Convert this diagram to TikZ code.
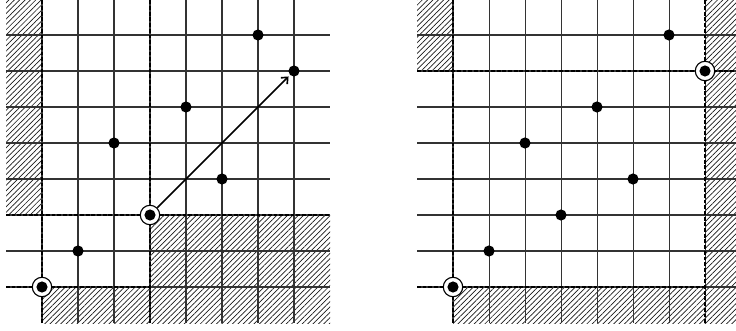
\documentclass[tikz,border=0pt]{standalone}
\usetikzlibrary{patterns.meta,arrows.meta}
\begin{document}
\begin{tikzpicture}[x=1cm,y=1cm,
  gridline/.style={black!80, line width=0.8pt},
  bound/.style={black, line width=1.4pt, dash pattern=on 3pt off 1.5pt},
  hatch/.style={pattern={Lines[angle=45,distance=3pt,line width=0.55pt]}, pattern color=black!90},
  dot/.style={circle, fill=black, inner sep=0pt, minimum size=0.31cm},
  ring/.style={circle, draw=black, line width=0.9pt, fill=white, inner sep=0pt, minimum size=0.54cm},
  arr/.style={line width=1.3pt, -{Straight Barb[length=4pt,width=7pt]}, shorten >=1.5pt}
]
\useasboundingbox (-1.1667,-1.2222) rectangle (19.2778,7.9722);
% ---------- left panel ----------
\begin{scope}
  \fill[hatch] (-1,2) rectangle (0,8);
  \fill[hatch] (0,-1) rectangle (8,0);
  \fill[hatch] (3,0) rectangle (8,2);
  \foreach \i in {0,...,7} {
    \draw[gridline] (\i,-1) -- (\i,8);
    \draw[gridline] (-1,\i) -- (8,\i);
  }
  \draw[bound] (0,-1) -- (0,8);
  \draw[bound] (3,-1) -- (3,8);
  \draw[bound] (-1,2) -- (8,2);
  \draw[bound] (-1,0) -- (3,0);
  \node[ring] (lr1) at (0,0) {};
  \node[ring] (lr2) at (3,2) {};
  \node[dot] (la) at (0,0) {};
  \node[dot] (lb) at (1,1) {};
  \node[dot] (lc) at (2,4) {};
  \node[dot] (ld) at (3,2) {};
  \node[dot] (le) at (4,5) {};
  \node[dot] (lf) at (5,3) {};
  \node[dot] (lg) at (6,7) {};
  \node[dot] (lh) at (7,6) {};
  \draw[arr] (lr2) -- (lh);
\end{scope}
% ---------- right panel ----------
\begin{scope}[xshift=11.4167cm]
  \fill[hatch] (-1,6) rectangle (0,8);
  \fill[hatch] (0,-1) rectangle (7,0);
  \fill[hatch] (7,-1) rectangle (8,8);
  \foreach \i in {0,...,7} {
    \draw[gridline] (\i,-1) -- (\i,8);
    \draw[gridline] (-1,\i) -- (8,\i);
  }
  \draw[bound] (0,-1) -- (0,8);
  \draw[bound] (7,-1) -- (7,8);
  \draw[bound] (-1,6) -- (8,6);
  \draw[bound] (-1,0) -- (7,0);
  \node[ring] (rr1) at (0,0) {};
  \node[ring] (rr2) at (7,6) {};
  \node[dot] (ra) at (0,0) {};
  \node[dot] (rb) at (1,1) {};
  \node[dot] (rc) at (2,4) {};
  \node[dot] (rd) at (3,2) {};
  \node[dot] (re) at (4,5) {};
  \node[dot] (rf) at (5,3) {};
  \node[dot] (rg) at (6,7) {};
  \node[dot] (rh) at (7,6) {};
\end{scope}
\end{tikzpicture}
\end{document}
